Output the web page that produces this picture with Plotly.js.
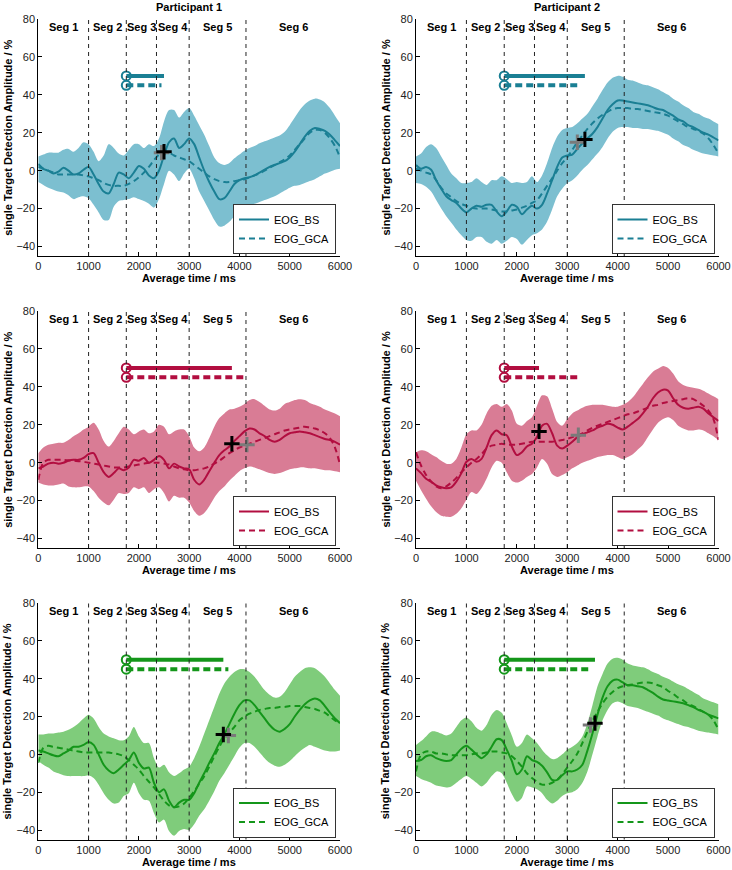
<!DOCTYPE html>
<html>
<head>
<meta charset="utf-8">
<script src="https://cdn.plot.ly/plotly-3.0.1.min.js"></script>
<style>html,body{margin:0;padding:0;background:#fff;}#chart{width:732px;height:870px;}</style>
</head>
<body>
<div id="chart"></div>
<script>
// ---------------- DATA ----------------
const time = [0,100,200,300,400,500,600,700,800,900,1000,1100,1200,1300,1400,1500,1600,1700,1800,1900,2000,2100,2200,2300,2400,2500,2600,2700,2800,2900,3000,3100,3200,3300,3400,3500,3600,3700,3800,3900,4000,4100,4200,4300,4400,4500,4600,4700,4800,4900,5000,5100,5200,5300,5400,5500,5600,5700,5800,5900,6000];

const segBounds = [1000, 1750, 2350, 3000, 4130];
const segLabels = ["Seg 1","Seg 2","Seg 3","Seg 4","Seg 5","Seg 6"];
const segLabelX = [500, 1375, 2045, 2670, 3560, 5070];
const segLabelY = 76;

const xTicks = [0,1000,2000,3000,4000,5000,6000];
const yTicks = [-40,-20,0,20,40,60,80];

const participantTitles = ["Participant 1", "Participant 2"];
const seriesNames = ["EOG_BS", "EOG_GCA"];

// Participant 1, condition 1 (teal)
const p1Bs = [3.5,1,0,-1.5,-0.5,1.5,0,-2,-1.5,0.5, 2,-2,-7,-11,-12,-7,-1,-2,-4,-1, 2.5,1,-2.5,-4,0,8,15,17,12,14, 17,14,7,0,-6,-11,-15,-14.5,-11,-7, -5,-4,-3.5,-2.5,-1,0.5,2,3,4,5, 7,10,14,18,21,22.5,22,21,19,16, 13];
const p1Gca = [2,1,0,-1,-2,-2,-2,-2,-2,-2.5, -3,-4,-5,-6.5,-7.5,-8,-8,-8,-7,-5.5, -3.5,-1,2,5.5,8.5,10,9.5,8,7,6, 5,3,1,-1,-3,-4.5,-5.5,-6,-6,-5.5, -5,-4.5,-3.5,-2.5,-1.5,0,1.5,3,4.5,6, 8,11,14,17,20,21.5,21.5,20,17,13, 7];
const p1Upper = [7.5,8.5,9.5,9.5,9.5,11,11.5,10,12,15, 14,10,5,8,14,12,9,8,11,14, 14,12,14,13,17,26,32,32,28,31, 33,29,24,19,13,7,4,3,4,6.5, 8.5,10.5,12,13,14.5,15.5,16.5,17.5,18.5,20.5, 24,28,32,35,37,38,37.5,36,33,29, 25];
const p1Lower = [-6,-7.5,-9,-10,-11,-11.5,-13,-15,-14,-13.5, -14.5,-18,-22,-26,-26,-19,-16,-15.5,-15,-14, -15,-16,-17.5,-19.5,-15,-7,0,-2,-5.5,-1.5, 1,-4,-11,-16,-21,-26,-29.5,-29,-27,-24, -22,-20.5,-19,-17.5,-16.5,-15.5,-14.5,-13.5,-12,-10.5, -9,-8,-7.5,-6.5,-5.5,-4.5,-3,-1.5,-0.5,0.5, 1];

// Participant 2, condition 1 (teal)
const p2Bs = [3,1,2,0.5,-5,-9.5,-13.5,-15.5,-17,-20, -22,-20,-18.5,-19,-18,-18,-21.5,-24,-21.5,-18, -19,-23,-20.5,-18.5,-20,-18,-12,-5,2,7, 8,8.5,11.5,14.5,17,19.5,23,27.5,32,35, 37,37,36.5,36,35.5,35,34.5,33.5,32.5,32, 30.5,29,27,26,24,23,21.5,20,19,17.5, 16];
const p2Gca = [1,0,-1,-2,-5,-9,-12,-14,-16,-17.5, -18.5,-19.5,-20,-20,-20,-20.5,-21,-21.5,-21.5,-21, -20.5,-19.5,-18.5,-17,-15.5,-12,-8,-4,0,4, 7,11,15,18.5,22,25,27.5,29.5,31,32.5, 33,33,33,32.5,32.5,32,31.5,31,30.5,30, 29,27.5,26,24.5,23,22,21,19.5,17,13.5, 9];
const p2Upper = [7.5,9,12.5,14,12,7.5,3,-1.5,-4,-6.5, -6.5,-6,-4,-6,-7.5,-5,-5,-3,-4.5,-6.5, -6,-6.5,-6,-3,-6,-2.5,4,12,18,21.5, 22.5,23,25,27.5,30,34,38,42.5,46.5,49, 50,49.5,48,47.5,46.5,45.5,45,44,43,41.5, 40,38,36.5,34.5,33,31,30,28.5,27.5,26, 24.5];
const p2Lower = [-6.5,-7,-8.5,-11,-15.5,-20,-24,-27.5,-31,-34, -36.5,-37,-35,-35,-37.5,-38.5,-36.5,-38.5,-37,-35, -36,-39,-36.5,-34,-33,-31,-27,-20.5,-13.5,-9.5, -6.5,-5,-2.5,0.5,3,6,9,12.5,17,20.5, 22.5,23,23,22.5,22.5,22,22,21.5,21,20, 19,17,15.5,13.5,12.5,11,10,9,8.5,8, 7.5];

// Participant 1, condition 2 (red)
const p3Bs = [-3,-2,-0.5,0,-0.5,0,1,1.5,1.5,2.5, 4.5,5,0,-5,-7.5,-5.5,-3,-4,-2.5,1.5, 1,2.5,0,1.5,3.5,1.5,-3,-0.5,-2,-3, -3.5,-9,-11.5,-9,-4.5,0,4,6.5,8.5,11.5, 14,16.5,18,17.5,15.5,14,12,11,12,14, 15.5,16,16.5,16,15.5,14.5,13.5,12.5,12,11, 9.5];
const p3Gca = [-9,0,1.5,1.5,1.5,1.5,1.3,1,0.8,0.5, 0,-0.5,-1,-1.5,-2,-2.5,-2.5,-2.5,-2,-1.5, -1,-0.5,0,0,0,-0.5,-1,-2,-3,-3.5, -4,-4,-3.5,-3,-2,-0.5,1,3,5,6.5, 8,9,10,11,12,13,14,15,16,17, 17.5,18,18.5,19,18.5,18,17,15.5,13,8, -1];
const p3Upper = [5,8,9.5,10,10.5,10.5,12,14,15.5,17.5, 19,21,17.5,11.5,8.5,11.5,15.5,19,17.5,15, 16.5,17.5,15.5,16.5,20,19,15,16.5,17.5,17.5, 14,8,6,8,13,19,23.5,26,28,28.5, 29.5,31,33,33.5,32,30,28,27.5,28.5,31, 32,33,33.5,33,31.5,30.5,29.5,28,27,26, 24.5];
const p3Lower = [-10.5,-11.5,-12,-12,-11.5,-11,-12.5,-13,-13,-12.5, -12.5,-15,-18.5,-21,-22.5,-19.5,-16,-16.5,-16,-13, -14,-13,-16,-14,-13,-16,-20.5,-17.5,-18.5,-18.5, -21,-25.5,-28,-26.5,-23,-18.5,-15,-12.5,-9.5,-7, -4.5,-3,-2,-2.5,-3.5,-4.5,-5.5,-6,-5.5,-4.5, -3.5,-3,-2.5,-2.5,-3,-3,-3.5,-4,-4,-4.5, -5];

// Participant 2, condition 2 (red)
const p4Bs = [-3,-5.5,-8.5,-10,-12,-13,-13.5,-13,-10,-5.5, 0.5,2,0.5,2,8,14.5,17,15,14.5,8.5, 4,5.5,8.5,10,13.5,19.5,20.5,15.5,9,7.5, 9,11,13.5,15,16,17,18.5,19.5,20.5,20, 18.5,17.5,19,21,23,26,29.5,34,37,38.5, 38,34,30.5,29,28.5,29,29.5,28.5,26,24, 22];
const p4Gca = [5.5,-1.5,-6.5,-10,-12.5,-13.5,-12.5,-10.5,-8,-5, -2.5,0,2,4.5,7.5,9,9.5,10,9.5,9.5, 9.5,10,10.5,11,11,11,11,11,11.5,12, 12.5,13.5,14.5,15.5,17,18.5,19.5,20.5,21.5,22.5, 23.5,24.5,25.5,26,27,28,29,30,30.5,31.5, 32,32.5,33,33.5,34,33.5,32,30,27.5,23, 12];
const p4Upper = [5.5,6.5,6,4.5,3,1,-0.5,-0.5,2,8, 15,17,17,20,26,30,31,29.5,31,27.5, 20.5,19.5,22,24,30,35.5,35,28.5,21.5,19.5, 23,26,27.5,29,30,30.5,30.5,30.5,30,29.5, 29.5,30.5,32,34.5,38,41.5,45,48,49.5,51, 50,47,43,41,40,39.5,39,38,36.5,35, 33.5];
const p4Lower = [-9.5,-14.5,-19,-23,-26,-28,-28.5,-28.5,-27,-24, -19.5,-15.5,-16.5,-13.5,-8.5,-2.5,1,0,-5,-9.5, -10.5,-9.5,-7.5,-6,-2.5,2,-0.5,-6,-7.5,-6.5, -5,-3,-1.5,0,1,2,3,3.5,4,4, 3,2,3,4.5,7,9.5,13.5,17.5,21,23, 24,22.5,19.5,18,17,17,17.5,17,15.5,14, 12];

// Participant 1, condition 3 (green)
const p5Bs = [2,1.5,0.5,-0.5,-1,0.5,2,4,4,5, 6.5,5,0,-5.5,-8.5,-10,-8,-5.5,-3,1, -4.5,-7.5,-7,-15,-20,-18.5,-24.5,-28,-25.5,-24, -24,-20.5,-15,-10,-4.5,0.5,6,10.5,16,21.5, 26,28.5,28.5,26,22.5,19,15.5,13,12,13.5, 16,20,23.5,26.5,28.5,29.5,28.5,25.5,22,19, 16.5];
const p5Gca = [-4.5,3.5,4.5,4,3.5,3,2.5,2,1.5,1, 1,1,1,1,1,0.5,0,-1,-3,-5.5, -8,-11.5,-14.5,-17.5,-21,-24.5,-27,-28,-27.5,-26, -23,-19.5,-15.5,-11.5,-6.5,-1,4,8.5,11.5,14.5, 18,20,21.5,22.5,23.5,24,24.5,24.5,25,25, 25.5,25.5,25.5,25,24.5,24,23,22,20,18, 16.5];
const p5Upper = [10.5,10.5,11,11,11.5,12,13,14.5,16.5,19, 21,19,14.5,11,9.5,8.5,7.5,7.5,9.5,14.5, 9.5,6,6,-2,-7,-5.5,-9.5,-11.5,-10,-8, -6.5,-2,4,11,18,25,32,37.5,41,43.5, 45,45,43.5,41,37.5,34,31.5,30,30.5,33, 37,41,43.5,45.5,46,45.5,43.5,41,37.5,34, 31];
const p5Lower = [-3.5,-5.5,-7,-9,-10,-11,-11.5,-11.5,-11.5,-11.5, -11,-12.5,-16,-20.5,-24,-26,-25.5,-22,-20.5,-15, -20.5,-24,-24.5,-31,-36,-34.5,-40.5,-43,-40.5,-39.5, -40,-37,-32.5,-29,-24.5,-19.5,-14,-10,-5.5,-1, 3.5,6,6,4,1,-2,-4.5,-6,-6.5,-5.5, -3.5,-1,1.5,3.5,5,4,3,2,1.5,1.5, 2];

// Participant 2, condition 3 (green)
const p6Bs = [-3.5,-3,-1,-0.5,-2,-3,-3.5,-3,0,3, 4.5,2.5,0,-2,0,4,8,7.5,2.5,-3.5, -10.5,-8,-1,-3,-4,-6,-9.5,-13.5,-13.5,-11, -9,-9,-8,-5.5,2,11,21,30,36,39, 39.5,38,36.5,36.5,36,35.5,34,32.5,30.5,29, 28.5,28,27.5,27,26,25,23.5,22.5,21,20, 19];
const p6Gca = [-9,0,1.5,1.5,0.5,0.5,0,-0.5,-0.5,-0.5, -0.5,0,0.5,0.5,1,1.5,1.5,1,0.5,-1, -3.5,-6.5,-10,-12.5,-14.5,-16,-16,-15,-13.5,-10.5, -7,-3.5,0.5,6,12,17.5,22.5,27,30.5,33, 35,36,36.5,37,37.5,38,38,37.5,36.5,35.5, 33.5,32,30,28.5,26.5,25.5,24,22.5,21,18, 13];
const p6Upper = [5,7,9.5,12,12,11,10,11,14.5,18, 19.5,17.5,14,12.5,15.5,21,23.5,22,16.5,10, 4,6,10.5,8.5,6,2.5,-0.5,-2.5,-2,0, 2.5,4,6,9.5,16.5,26,36,42.5,48,50.5, 51,50,48,47,46.5,46,45,43.5,42.5,41, 40,38.5,37,36,34.5,33,31.5,29.5,28.5,27.5, 26.5];
const p6Lower = [-11.5,-13,-14,-15,-16.5,-17,-17.5,-17,-15,-13, -11.5,-13,-15,-17,-15,-11.5,-9,-10,-15,-21, -25,-23,-17,-17.5,-18.5,-20.5,-24,-26,-24.5,-22, -20.5,-20,-18.5,-15,-9,0,9.5,18,23.5,27, 28,27,25.5,25,24.5,23.5,22.5,21.5,20.5,19, 18,17,16,15,14.5,13.5,12.5,12,11.5,11, 10.5];

// Detection onsets (panel order 1..6)
const barStart = 1750;
const bsBarLevel = 50;
const gcaBarLevel = 45;
const bsOnsetTime = [2500, 3350, 3850, 2440, 3680, 3550];
const bsOnsetAmp  = [10, 16.5, 10, 16.5, 10.5, 16.5];
const gcaOnsetTime = [2450, 3200, 4150, 3220, 3780, 3460];
const gcaOnsetAmp  = [9.5, 15, 9.5, 14.5, 10, 15.5];

// ---------------- STYLE ----------------
const FONT = "Liberation Sans, Arial, Helvetica, sans-serif";
const lineColors = ["#1a7f94", "#1a7f94", "#b20e40", "#b20e40", "#14961a", "#14961a"];
const fillColors = ["#7cbfd0", "#7cbfd0", "#d97c95", "#d97c95", "#7fcc7b", "#7fcc7b"];

const W = 732, H = 870;
const colPx = [[38.3, 340], [416, 718.5]];
const rowPx = [[19, 256], [311, 548], [603, 839.5]];

const series = [
  [p1Bs, p1Gca, p1Upper, p1Lower],
  [p2Bs, p2Gca, p2Upper, p2Lower],
  [p3Bs, p3Gca, p3Upper, p3Lower],
  [p4Bs, p4Gca, p4Upper, p4Lower],
  [p5Bs, p5Gca, p5Upper, p5Lower],
  [p6Bs, p6Gca, p6Upper, p6Lower]
];

const traces = [];
const shapes = [];
const annotations = [];
const layout = {
  width: W, height: H,
  margin: {l: 0, r: 0, t: 0, b: 0},
  paper_bgcolor: "#ffffff",
  plot_bgcolor: "#ffffff",
  font: {family: FONT, size: 11, color: "#000"},
  showlegend: true
};

for (let i = 0; i < 6; i++) {
  const n = i + 1;
  const col = i % 2, row = Math.floor(i / 2);
  const xa = n === 1 ? "x" : "x" + n;
  const ya = n === 1 ? "y" : "y" + n;
  const legId = n === 1 ? "legend" : "legend" + n;
  const [bs, gca, up, lo] = series[i];
  const lc = lineColors[i], fc = fillColors[i];

  const xd = [colPx[col][0] / W, colPx[col][1] / W];
  const yd = [1 - rowPx[row][1] / H, 1 - rowPx[row][0] / H];

  layout[n === 1 ? "xaxis" : "xaxis" + n] = {
    domain: xd, anchor: ya, range: [0, 6000], tickvals: xTicks,
    showline: true, linecolor: "#000", linewidth: 1, ticks: "inside", ticklen: 4, tickcolor: "#000",
    showgrid: false, zeroline: false, automargin: false,
    tickfont: {family: FONT, size: 11, color: "#222"}
  };
  layout[n === 1 ? "yaxis" : "yaxis" + n] = {
    domain: yd, anchor: xa, range: [-45, 80], tickvals: yTicks,
    showline: true, linecolor: "#000", linewidth: 1, ticks: "inside", ticklen: 4, tickcolor: "#000",
    showgrid: false, zeroline: false, automargin: false,
    tickfont: {family: FONT, size: 11, color: "#222"}
  };

  // confidence band
  traces.push({x: time, y: lo, xaxis: xa, yaxis: ya, mode: "lines", line: {width: 0, shape: "spline", smoothing: 0.8, color: fc}, showlegend: false, hoverinfo: "skip", legend: legId});
  traces.push({x: time, y: up, xaxis: xa, yaxis: ya, mode: "lines", fill: "tonexty", fillcolor: fc, line: {width: 0, shape: "spline", smoothing: 0.8, color: fc}, showlegend: false, hoverinfo: "skip", legend: legId});
  // mean curves
  traces.push({x: time, y: bs, xaxis: xa, yaxis: ya, mode: "lines", name: seriesNames[0], line: {color: lc, width: 2, shape: "spline", smoothing: 0.8}, legend: legId});
  traces.push({x: time, y: gca, xaxis: xa, yaxis: ya, mode: "lines", name: seriesNames[1], line: {color: lc, width: 2, dash: "6px,4px", shape: "spline", smoothing: 0.8}, legend: legId});
  // detection bars
  traces.push({x: [barStart, bsOnsetTime[i]], y: [bsBarLevel, bsBarLevel], xaxis: xa, yaxis: ya, mode: "lines", line: {color: lc, width: 4}, showlegend: false, legend: legId});
  traces.push({x: [barStart, gcaOnsetTime[i]], y: [gcaBarLevel, gcaBarLevel], xaxis: xa, yaxis: ya, mode: "lines", line: {color: lc, width: 4, dash: "7px,4px"}, showlegend: false, legend: legId});
  traces.push({x: [barStart, barStart], y: [bsBarLevel, gcaBarLevel], xaxis: xa, yaxis: ya, mode: "markers", marker: {symbol: "circle-open", size: 9, color: lc, line: {width: 2, color: lc}}, showlegend: false, legend: legId});
  // onset crosses
  traces.push({x: [gcaOnsetTime[i]], y: [gcaOnsetAmp[i]], xaxis: xa, yaxis: ya, mode: "markers", marker: {symbol: "cross-thin", size: 11, line: {width: 3, color: "#7a7a7a"}}, showlegend: false, legend: legId});
  traces.push({x: [bsOnsetTime[i]], y: [bsOnsetAmp[i]], xaxis: xa, yaxis: ya, mode: "markers", marker: {symbol: "cross-thin", size: 11, line: {width: 3, color: "#000"}}, showlegend: false, legend: legId});

  // segment boundaries
  segBounds.forEach(b => {
    shapes.push({type: "line", xref: xa, yref: ya + " domain", x0: b, x1: b, y0: 0, y1: 1, layer: "above", line: {color: "#222", width: 1, dash: "4px,4px"}});
  });
  // segment labels
  segLabels.forEach((s, k) => {
    annotations.push({xref: xa, yref: ya, x: segLabelX[k], y: segLabelY, text: "<b>" + s + "</b>", showarrow: false, font: {family: FONT, size: 11, color: "#000"}, xanchor: "center", yanchor: "middle"});
  });
  // axis titles
  annotations.push({xref: "paper", yref: "paper", x: (xd[0] + xd[1]) / 2, y: yd[0], yshift: -22, text: "<b>Average time / ms</b>", showarrow: false, font: {family: FONT, size: 11, color: "#000"}, xanchor: "center", yanchor: "middle"});
  annotations.push({xref: "paper", yref: "paper", x: xd[0], xshift: -31, y: (yd[0] + yd[1]) / 2, text: "<b>single Target Detection Amplitude / %</b>", textangle: -90, showarrow: false, font: {family: FONT, size: 11, color: "#000"}, xanchor: "center", yanchor: "middle"});
  if (row === 0) {
    annotations.push({xref: "paper", yref: "paper", x: (xd[0] + xd[1]) / 2, y: 1 - 7 / H, text: "<b>" + participantTitles[col] + "</b>", showarrow: false, font: {family: FONT, size: 11, color: "#000"}, xanchor: "center", yanchor: "middle"});
  }

  // legend
  layout[legId] = {
    x: (colPx[col][1] - 4) / W, xanchor: "right",
    y: 1 - (rowPx[row][1] - 2) / H, yanchor: "bottom",
    bgcolor: "#ffffff", bordercolor: "#333", borderwidth: 1,
    font: {family: FONT, size: 11, color: "#000"},
    traceorder: "normal", tracegroupgap: 0, itemwidth: 30
  };
}

layout.shapes = shapes;
layout.annotations = annotations;

Plotly.newPlot("chart", traces, layout, {staticPlot: true, displayModeBar: false});
</script>
</body>
</html>
